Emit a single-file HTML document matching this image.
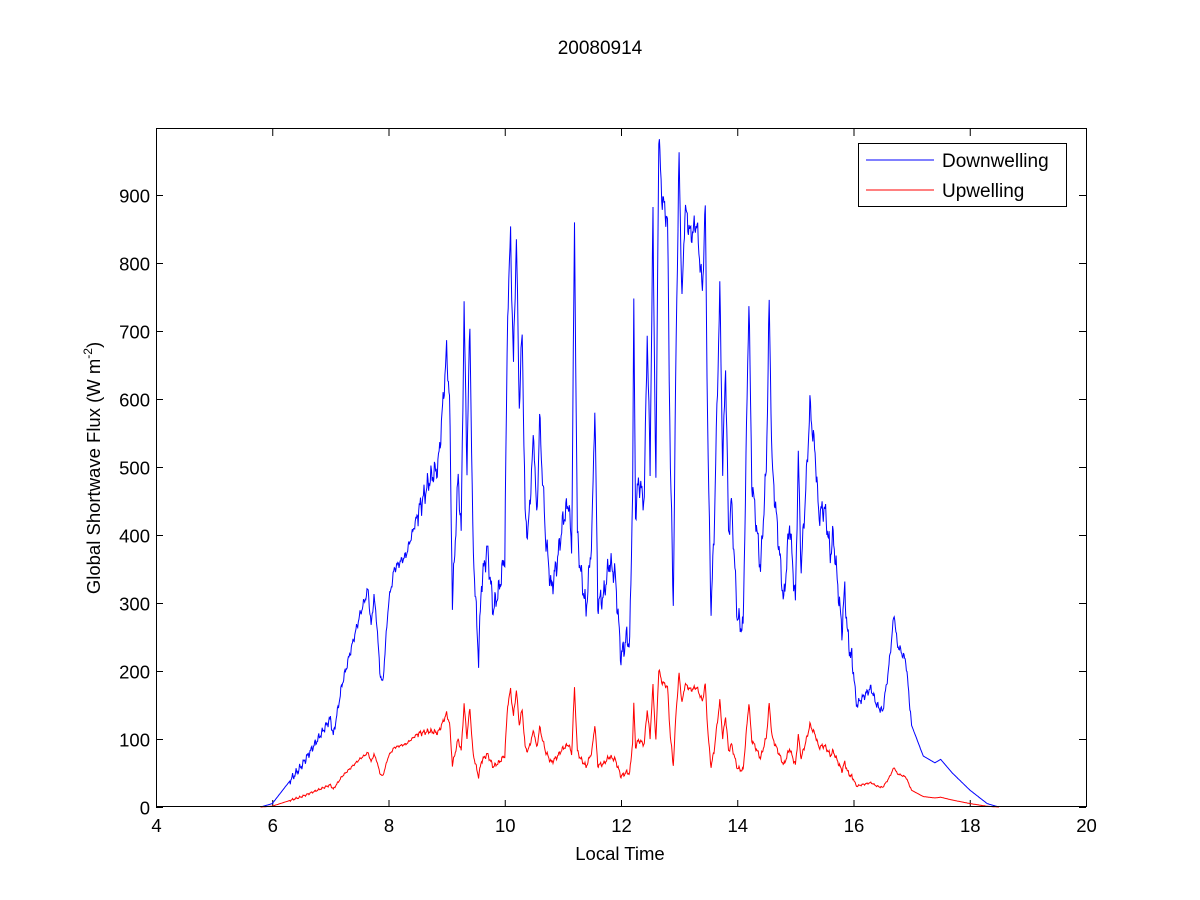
<!DOCTYPE html>
<html><head><meta charset="utf-8"><style>
body{margin:0;background:#fff;}
svg{display:block;font-family:"Liberation Sans",Arial,sans-serif;}
</style></head><body>
<svg id="s" width="1200" height="900" xmlns="http://www.w3.org/2000/svg">
<rect width="1200" height="900" fill="#fff"/>
<text x="600" y="54" font-size="19" text-anchor="middle">20080914</text>
<g id="ax"></g>
<polyline id="blue" fill="none" stroke="#0000ff" stroke-width="1"/>
<polyline id="red" fill="none" stroke="#ff0000" stroke-width="1"/>
<rect x="156.5" y="128.5" width="930" height="678" fill="none" stroke="#000" stroke-width="1"/>
<rect x="858.5" y="143.5" width="208" height="63" fill="#fff" stroke="#000"/>
<line x1="866" y1="160" x2="934" y2="160" stroke="#0000ff"/>
<line x1="866" y1="190" x2="934" y2="190" stroke="#ff0000"/>
<text x="942" y="167" font-size="19">Downwelling</text>
<text x="942" y="197" font-size="19">Upwelling</text>
<text x="620" y="860" font-size="18.5" text-anchor="middle">Local Time</text>
<text transform="translate(100,468) rotate(-90)" font-size="18.5" text-anchor="middle">Global Shortwave Flux (W m<tspan font-size="12" dy="-8">-2</tspan><tspan dy="8">)</tspan></text>
</svg>
<script>
var X=t=>156+(t-4)*58.125, Y=v=>807-v*0.68;
var ax=document.getElementById('ax'),h='';
for(var t=4;t<=20;t+=2){var x=X(t)+0.5;h+=`<line x1="${x}" y1="807" x2="${x}" y2="800" stroke="#000"/><line x1="${x}" y1="129" x2="${x}" y2="136" stroke="#000"/><text x="${x}" y="832" font-size="18.5" text-anchor="middle">${t}</text>`;}
for(var v=0;v<=900;v+=100){var y=Y(v)+0.5;h+=`<line x1="156" y1="${y}" x2="163" y2="${y}" stroke="#000"/><line x1="1086" y1="${y}" x2="1079" y2="${y}" stroke="#000"/><text x="150" y="${y+7}" font-size="18.5" text-anchor="end">${v}</text>`;}
ax.innerHTML=h;
var k=[[5.8,0],[6,5],[6.5,60],[7,130],[7.05,105],[7.2,180],[7.5,280],[7.65,320],[7.7,265],[7.75,310],[7.8,270],[7.85,200],[7.9,180],[8,300],[8.1,350],[8.3,370],[8.5,430],[8.7,480],[8.85,500],[8.9,550],[9,670],[9.05,600],[9.1,300],[9.2,490],[9.25,400],[9.3,735],[9.35,500],[9.4,715],[9.45,400],[9.5,300],[9.55,220],[9.6,330],[9.7,380],[9.8,290],[9.9,320],[10,370],[10.05,730],[10.1,840],[10.15,650],[10.2,840],[10.25,590],[10.3,700],[10.35,430],[10.4,400],[10.5,550],[10.55,420],[10.6,570],[10.7,400],[10.8,320],[10.9,360],[11,420],[11.1,450],[11.15,380],[11.2,850],[11.25,400],[11.3,350],[11.4,290],[11.5,400],[11.55,595],[11.6,300],[11.7,310],[11.8,360],[11.9,340],[12,220],[12.1,250],[12.15,240],[12.2,470],[12.22,730],[12.25,430],[12.3,480],[12.4,450],[12.45,700],[12.5,500],[12.55,870],[12.6,470],[12.65,990],[12.7,900],[12.8,860],[12.85,500],[12.9,300],[12.95,700],[13,955],[13.05,740],[13.1,880],[13.2,840],[13.3,860],[13.4,760],[13.45,880],[13.5,500],[13.55,290],[13.6,400],[13.7,760],[13.75,500],[13.8,650],[13.85,400],[13.9,450],[14,280],[14.1,260],[14.2,750],[14.25,480],[14.3,440],[14.4,350],[14.5,500],[14.55,740],[14.6,500],[14.7,400],[14.8,300],[14.9,420],[15,300],[15.05,515],[15.1,350],[15.2,500],[15.25,590],[15.35,510],[15.4,430],[15.5,440],[15.55,410],[15.6,370],[15.65,400],[15.8,260],[15.85,320],[15.9,250],[16,200],[16.05,150],[16.2,165],[16.3,175],[16.4,150],[16.5,140],[16.6,200],[16.7,285],[16.75,240],[16.9,215],[17,120],[17.2,75],[17.4,65],[17.5,70],[17.7,50],[18,25],[18.3,5],[18.5,0]];
var b=[],r=[];
for(var i=0;i<k.length-1;i++){var a=k[i],c=k[i+1],n=Math.max(1,Math.round((c[0]-a[0])/0.01));
for(var j=0;j<n;j++){var f=j/n,t=a[0]+f*(c[0]-a[0]),v=a[1]+f*(c[1]-a[1]);
var amp=(t>8.5&&t<16)?1:((t>6.3&&t<17)?0.35:0);
var jit=amp*(Math.sin(t*97.3)*12+Math.sin(t*211)*8);var vb=Math.max(0,v+jit);
b.push(X(t).toFixed(1)+','+Y(vb).toFixed(1));
var fr=t<8.5?0.25:(t<9?0.25-(t-8.5)*0.09:0.205);
var vr=vb*fr;r.push(X(t).toFixed(1)+','+Y(vr).toFixed(1));}}
b.push(X(18.5)+','+Y(0));r.push(X(18.5)+','+Y(0));
document.getElementById('blue').setAttribute('points',b.join(' '));
document.getElementById('red').setAttribute('points',r.join(' '));
</script>
</body></html>
